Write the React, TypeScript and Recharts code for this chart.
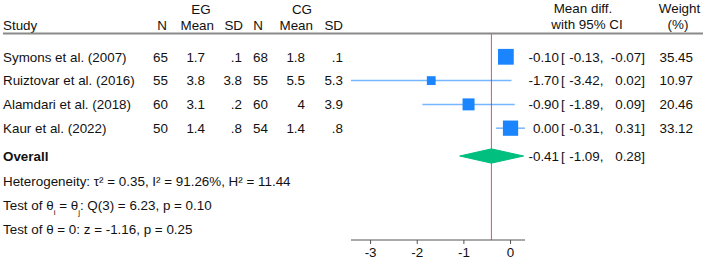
import { ScatterChart, Scatter, XAxis, YAxis, ReferenceLine } from 'recharts'

const studies = ['Symons et al. (2007)', 'Ruiztovar et al. (2016)', 'Alamdari et al. (2018)', 'Kaur et al. (2022)']
const egN = ['65', '55', '60', '50']
const egMean = ['1.7', '3.8', '3.1', '1.4']
const egSD = ['.1', '3.8', '.2', '.8']
const cgN = ['68', '55', '60', '54']
const cgMean = ['1.8', '5.5', '4', '1.4']
const cgSD = ['.1', '5.3', '3.9', '.8']
const meanDiff = [-0.1, -1.7, -0.9, 0.0]
const ciLow = [-0.13, -3.42, -1.89, -0.31]
const ciHigh = [-0.07, 0.02, 0.09, 0.31]
const weights = [35.45, 10.97, 20.46, 33.12]
const overallEst = -0.41
const overallLow = -1.09
const overallHigh = 0.28
const xTicks = [-3, -2, -1, 0]

const W = 707
const H = 259
const TOP = 33
const ROW_H = 23.8
const Y_MAX = 8.7
const OVERALL_ROW = 5.17
const FONT = '"Liberation Sans", Arial, Helvetica, sans-serif'
const FS = 13.4
const BLUE = '#1a85ff'
const GREEN = '#00bf7f'
const RED = '#d41159'

const rowPx = (v: number) => TOP + v * ROW_H

const studyData = studies.map((s, i) => ({ x: meanDiff[i], y: i + 1, w: weights[i] }))
// diamond: ci ends at row centre, estimate at top/bottom tips
const diamond = [
  { x: overallLow, y: OVERALL_ROW },
  { x: overallEst, y: OVERALL_ROW - 0.3 },
  { x: overallHigh, y: OVERALL_ROW },
  { x: overallEst, y: OVERALL_ROW + 0.3 },
  { x: overallLow, y: OVERALL_ROW },
]

const fmt = (v: number) => v.toFixed(2)

const Square = (props: any) => {
  const { cx, cy, payload } = props
  const s = 2.65 * Math.sqrt(payload.w)
  return <rect x={cx - s / 2} y={cy - s / 2} width={s} height={s} fill={BLUE} />
}

const T = ({ x, y, anchor = 'end', bold = false, children }: any) => (
  <text x={x} y={y + 4.7} textAnchor={anchor} fontWeight={bold ? 'bold' : 'normal'}>
    {children}
  </text>
)

const Table = () => {
  const sub = { baselineShift: 'sub', fontSize: 8 } as any
  return (
    <svg width={W} height={H} style={{ position: 'absolute', left: 0, top: 0, pointerEvents: 'none' }}
      fontFamily={FONT} fontSize={FS} fill="#111">
      {/* headers */}
      <T x={201} y={9} anchor="middle">EG</T>
      <T x={302} y={9} anchor="middle">CG</T>
      <T x={3} y={25} anchor="start">Study</T>
      <T x={167} y={25}>N</T>
      <T x={214} y={25}>Mean</T>
      <T x={243} y={25}>SD</T>
      <T x={263} y={25}>N</T>
      <T x={313} y={25}>Mean</T>
      <T x={343} y={25}>SD</T>
      <T x={583} y={8} anchor="middle">Mean diff.</T>
      <T x={587} y={24} anchor="middle">with 95% CI</T>
      <T x={679.5} y={8} anchor="middle">Weight</T>
      <T x={678} y={24} anchor="middle">(%)</T>
      <line x1={3} x2={703} y1={33.5} y2={33.5} stroke="#8a8a8a" strokeWidth={2} />

      {studies.map((s, i) => {
        const y = rowPx(i + 1)
        return (
          <g key={s}>
            <T x={3} y={y} anchor="start">{s}</T>
            <T x={168} y={y}>{egN[i]}</T>
            <T x={205} y={y}>{egMean[i]}</T>
            <T x={242} y={y}>{egSD[i]}</T>
            <T x={268} y={y}>{cgN[i]}</T>
            <T x={305} y={y}>{cgMean[i]}</T>
            <T x={343} y={y}>{cgSD[i]}</T>
            <T x={559} y={y}>{fmt(meanDiff[i])}</T>
            <T x={561} y={y} anchor="start">[</T>
            <T x={603.5} y={y}>{fmt(ciLow[i])},</T>
            <T x={645} y={y}>{fmt(ciHigh[i])}]</T>
            <T x={693} y={y}>{fmt(weights[i])}</T>
          </g>
        )
      })}

      <T x={3} y={rowPx(OVERALL_ROW)} anchor="start" bold>Overall</T>
      <T x={559} y={rowPx(OVERALL_ROW)}>{fmt(overallEst)}</T>
      <T x={561} y={rowPx(OVERALL_ROW)} anchor="start">[</T>
      <T x={603.5} y={rowPx(OVERALL_ROW)}>{fmt(overallLow)},</T>
      <T x={645} y={rowPx(OVERALL_ROW)}>{fmt(overallHigh)}]</T>

      <T x={3} y={rowPx(6.25)} anchor="start">Heterogeneity: τ² = 0.35, I² = 91.26%, H² = 11.44</T>
      <T x={3} y={rowPx(7.23)} anchor="start">
        Test of θ<tspan style={sub}>i</tspan> = θ<tspan style={sub}>j</tspan>: Q(3) = 6.23, p = 0.10
      </T>
      <T x={3} y={rowPx(8.24)} anchor="start">Test of θ = 0: z = -1.16, p = 0.25</T>
    </svg>
  )
}

export default function App() {
  return (
    <div style={{ position: 'absolute', left: 0, top: 0, width: W, height: H, background: '#fff' }}>
      <ScatterChart width={W} height={H} margin={{ top: TOP, right: 182, bottom: 0, left: 351 }}>
        <XAxis
          type="number"
          dataKey="x"
          domain={[-3.42, 0.31]}
          ticks={xTicks}
          allowDataOverflow
          height={19}
          stroke="#555"
          tickSize={4}
          tickMargin={3}
          tick={{ fill: '#111', fontSize: FS, fontFamily: FONT }}
        />
        <YAxis type="number" dataKey="y" domain={[0, Y_MAX]} reversed hide />
        {studies.map((s, i) => (
          <ReferenceLine
            key={s}
            segment={[{ x: ciLow[i], y: i + 1 }, { x: ciHigh[i], y: i + 1 }]}
            stroke={BLUE}
            strokeOpacity={0.6}
            strokeWidth={1.5}
            ifOverflow="visible"
          />
        ))}
        <ReferenceLine x={overallEst} stroke={RED} strokeOpacity={0.75} strokeWidth={1} />
        <Scatter data={studyData} shape={Square} isAnimationActive={false} />
        <Scatter
          data={diamond}
          shape={() => <g />}
          line={{ stroke: GREEN, fill: GREEN, strokeWidth: 1 }}
          isAnimationActive={false}
        />
      </ScatterChart>
      <Table />
    </div>
  )
}
